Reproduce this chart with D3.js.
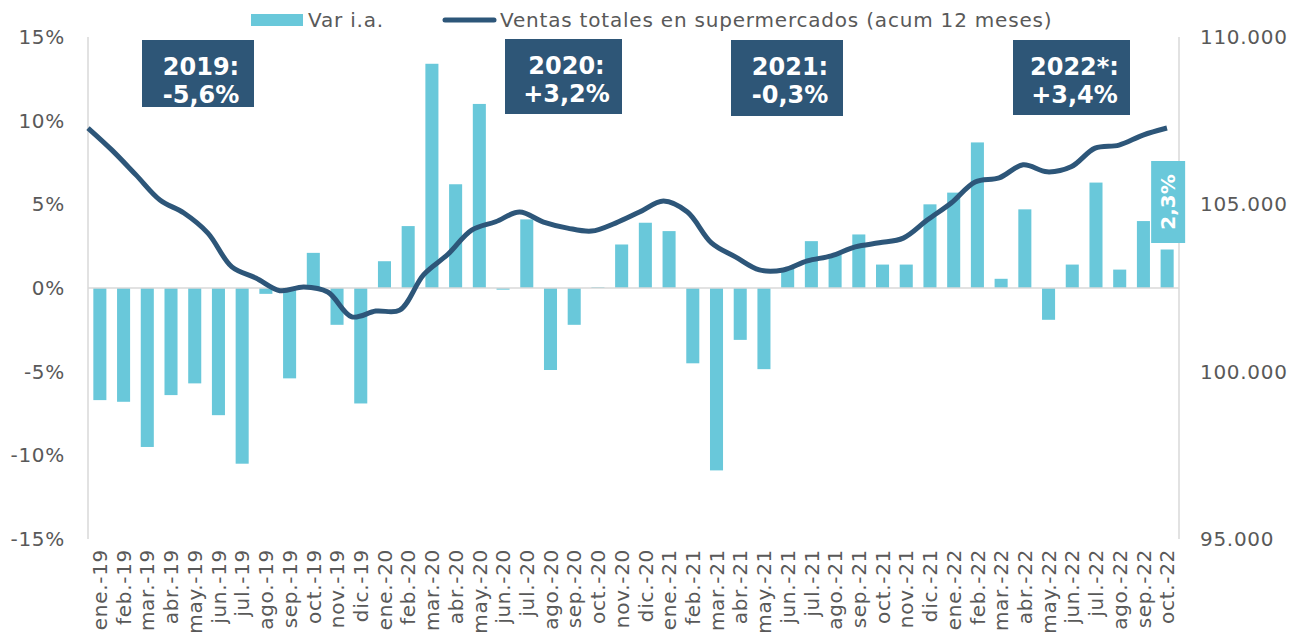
<!DOCTYPE html>
<html>
<head>
<meta charset="utf-8">
<script src="https://cdn.jsdelivr.net/npm/d3@7"></script>
<style>
  body { margin: 0; background: #fff; }
  svg { display: block; font-family: Verdana, "DejaVu Sans", sans-serif; }
</style>
</head>
<body>
<div id="chart"></div>
<script>
const months = [
  "ene.-19","feb.-19","mar.-19","abr.-19","may.-19","jun.-19","jul.-19","ago.-19","sep.-19","oct.-19","nov.-19","dic.-19",
  "ene.-20","feb.-20","mar.-20","abr.-20","may.-20","jun.-20","jul.-20","ago.-20","sep.-20","oct.-20","nov.-20","dic.-20",
  "ene.-21","feb.-21","mar.-21","abr.-21","may.-21","jun.-21","jul.-21","ago.-21","sep.-21","oct.-21","nov.-21","dic.-21",
  "ene.-22","feb.-22","mar.-22","abr.-22","may.-22","jun.-22","jul.-22","ago.-22","sep.-22","oct.-22"
];

// variación interanual (%)
const varIA = [
  -6.7, -6.8, -9.5, -6.4, -5.7, -7.6, -10.5, -0.35, -5.4, 2.1, -2.2, -6.9,
  1.6, 3.7, 13.4, 6.2, 11.0, -0.1, 4.1, -4.9, -2.2, 0.05, 2.6, 3.9,
  3.4, -4.5, -10.9, -3.1, -4.85, 1.2, 2.8, 2.0, 3.2, 1.4, 1.4, 5.0,
  5.7, 8.7, 0.55, 4.7, -1.9, 1.4, 6.3, 1.1, 4.0, 2.3
];

// ventas totales acumuladas 12 meses
const ventas = [
  107280, 106620, 105880, 105130, 104740, 104140, 103130, 102800, 102420, 102530, 102380, 101640,
  101810, 101840, 102900, 103500, 104230, 104480, 104770, 104470, 104290, 104200, 104440, 104770,
  105100, 104770, 103850, 103430, 103040, 103040, 103310, 103460, 103730, 103850, 103990, 104530,
  105040, 105670, 105790, 106180, 105970, 106120, 106680, 106770, 107070, 107280
];

const leftTicks = [-15, -10, -5, 0, 5, 10, 15];
const rightTicks = [95000, 100000, 105000, 110000];

const yearLabels = [
  ["2019:", "-5,6%"],
  ["2020:", "+3,2%"],
  ["2021:", "-0,3%"],
  ["2022*:", "+3,4%"]
];
const lastLabel = "2,3%";

const width = 1293;
const height = 643;
const plotLeft = 88, plotRight = 1179, plotTop = 37, plotBottom = 539;

const barColor = "#69C8DA";
const lineColor = "#2D5679";
const textColor = "#595959";
const axisColor = "#D9D9D9";
const fontFam = "Verdana, 'DejaVu Sans', sans-serif";

const svg = d3.select("#chart")
  .append("svg")
  .attr("width", width)
  .attr("height", height);

const x = d3.scaleBand()
  .domain(months)
  .range([plotLeft, plotRight])
  .paddingInner(0.45)
  .paddingOuter(0.225);

const xLine = d3.scalePoint()
  .domain(months)
  .range([plotLeft, 1167]);

const yLeft = d3.scaleLinear().domain([-15, 15]).range([plotBottom, plotTop]);
const yRight = d3.scaleLinear().domain([95000, 110000]).range([plotBottom, plotTop]);

// axis lines
svg.append("line")
  .attr("x1", plotLeft).attr("x2", plotLeft)
  .attr("y1", plotTop).attr("y2", plotBottom)
  .attr("stroke", axisColor).attr("stroke-width", 1.5);
svg.append("line")
  .attr("x1", plotRight).attr("x2", plotRight)
  .attr("y1", plotTop).attr("y2", plotBottom)
  .attr("stroke", axisColor).attr("stroke-width", 1.5);

// left axis
const yAxisL = d3.axisLeft(yLeft)
  .tickValues(leftTicks)
  .tickSize(0)
  .tickPadding(23)
  .tickFormat(d => d + "%");
svg.append("g")
  .attr("transform", "translate(" + plotLeft + ",0)")
  .call(yAxisL)
  .call(g => g.select(".domain").remove())
  .call(g => g.selectAll("text")
    .attr("fill", textColor)
    .style("font-size", "20px")
    .style("letter-spacing", "0.7px")
    .style("font-family", fontFam));

// right axis
const yAxisR = d3.axisRight(yRight)
  .tickValues(rightTicks)
  .tickSize(0)
  .tickPadding(21)
  .tickFormat(d => d3.format(",")(d).replace(/,/g, "."));
svg.append("g")
  .attr("transform", "translate(" + plotRight + ",0)")
  .call(yAxisR)
  .call(g => g.select(".domain").remove())
  .call(g => g.selectAll("text")
    .attr("fill", textColor)
    .style("font-size", "20px")
    .style("letter-spacing", "0.7px")
    .style("font-family", fontFam));

// bars
svg.selectAll("rect.bar")
  .data(varIA)
  .enter()
  .append("rect")
  .attr("class", "bar")
  .attr("x", (d, i) => x(months[i]))
  .attr("y", d => yLeft(Math.max(0, d)))
  .attr("width", x.bandwidth())
  .attr("height", d => Math.abs(yLeft(d) - yLeft(0)))
  .attr("fill", barColor);

// zero line
svg.append("line")
  .attr("x1", plotLeft).attr("x2", plotRight)
  .attr("y1", yLeft(0)).attr("y2", yLeft(0))
  .attr("stroke", axisColor).attr("stroke-width", 1.5);

// x axis labels
const xAxis = d3.axisBottom(x).tickSize(0).tickPadding(0);
svg.append("g")
  .attr("transform", "translate(0," + (plotBottom + 10) + ")")
  .call(xAxis)
  .call(g => g.select(".domain").remove())
  .call(g => g.selectAll("text")
    .attr("fill", textColor)
    .style("font-size", "20px")
    .style("letter-spacing", "0.7px")
    .style("font-family", fontFam)
    .attr("text-anchor", "end")
    .attr("transform", "rotate(-90)")
    .attr("x", 0)
    .attr("y", 0)
    .attr("dy", "0.36em"));

// line
const line = d3.line()
  .x((d, i) => xLine(months[i]))
  .y(d => yRight(d))
  .curve(d3.curveCatmullRom.alpha(0.5));

svg.append("path")
  .datum(ventas)
  .attr("d", line)
  .attr("fill", "none")
  .attr("stroke", lineColor)
  .attr("stroke-width", 5)
  .attr("stroke-linejoin", "round");

// year annotation boxes
const boxes = [
  { x: 142, y: 40, w: 112, h: 67 },
  { x: 505, y: 39, w: 117, h: 75 },
  { x: 731, y: 40, w: 112, h: 76 },
  { x: 1013, y: 40, w: 117, h: 75 }
];
boxes.forEach((b, i) => {
  const g = svg.append("g");
  g.append("rect")
    .attr("x", b.x).attr("y", b.y)
    .attr("width", b.w).attr("height", b.h)
    .attr("fill", "#2E5677");
  const t = g.append("text")
    .attr("fill", "#fff")
    .attr("font-weight", "bold")
    .attr("font-size", "24px")
    .attr("text-anchor", "middle");
  t.append("tspan")
    .attr("x", b.x + b.w / 2 + 3).attr("y", b.y + 35)
    .text(yearLabels[i][0]);
  t.append("tspan")
    .attr("x", b.x + b.w / 2 + 3).attr("y", b.y + 63)
    .text(yearLabels[i][1]);
});

// data label on last bar
const lastX = x(months[months.length - 1]) + x.bandwidth() / 2;
svg.append("rect")
  .attr("x", lastX - 16).attr("y", 161)
  .attr("width", 34).attr("height", 82)
  .attr("fill", barColor);
svg.append("text")
  .attr("transform", "translate(" + (lastX + 1) + ",202) rotate(-90)")
  .attr("text-anchor", "middle")
  .attr("dy", "0.36em")
  .attr("fill", "#fff")
  .attr("font-weight", "bold")
  .attr("font-size", "20px")
  .text(lastLabel);

// legend
const legend = svg.append("g")
  .attr("font-size", "20px")
  .attr("fill", textColor)
  .style("letter-spacing", "0.8px");
legend.append("rect")
  .attr("x", 251).attr("y", 14).attr("width", 52).attr("height", 12)
  .attr("fill", barColor);
legend.append("text")
  .attr("x", 308).attr("y", 27)
  .attr("fill", textColor)
  .text("Var i.a.");
legend.append("line")
  .attr("x1", 445).attr("x2", 494)
  .attr("y1", 20).attr("y2", 20)
  .attr("stroke", lineColor).attr("stroke-width", 5)
  .attr("stroke-linecap", "round");
legend.append("text")
  .attr("x", 500).attr("y", 27)
  .attr("fill", textColor)
  .text("Ventas totales en supermercados (acum 12 meses)");
</script>
</body>
</html>
